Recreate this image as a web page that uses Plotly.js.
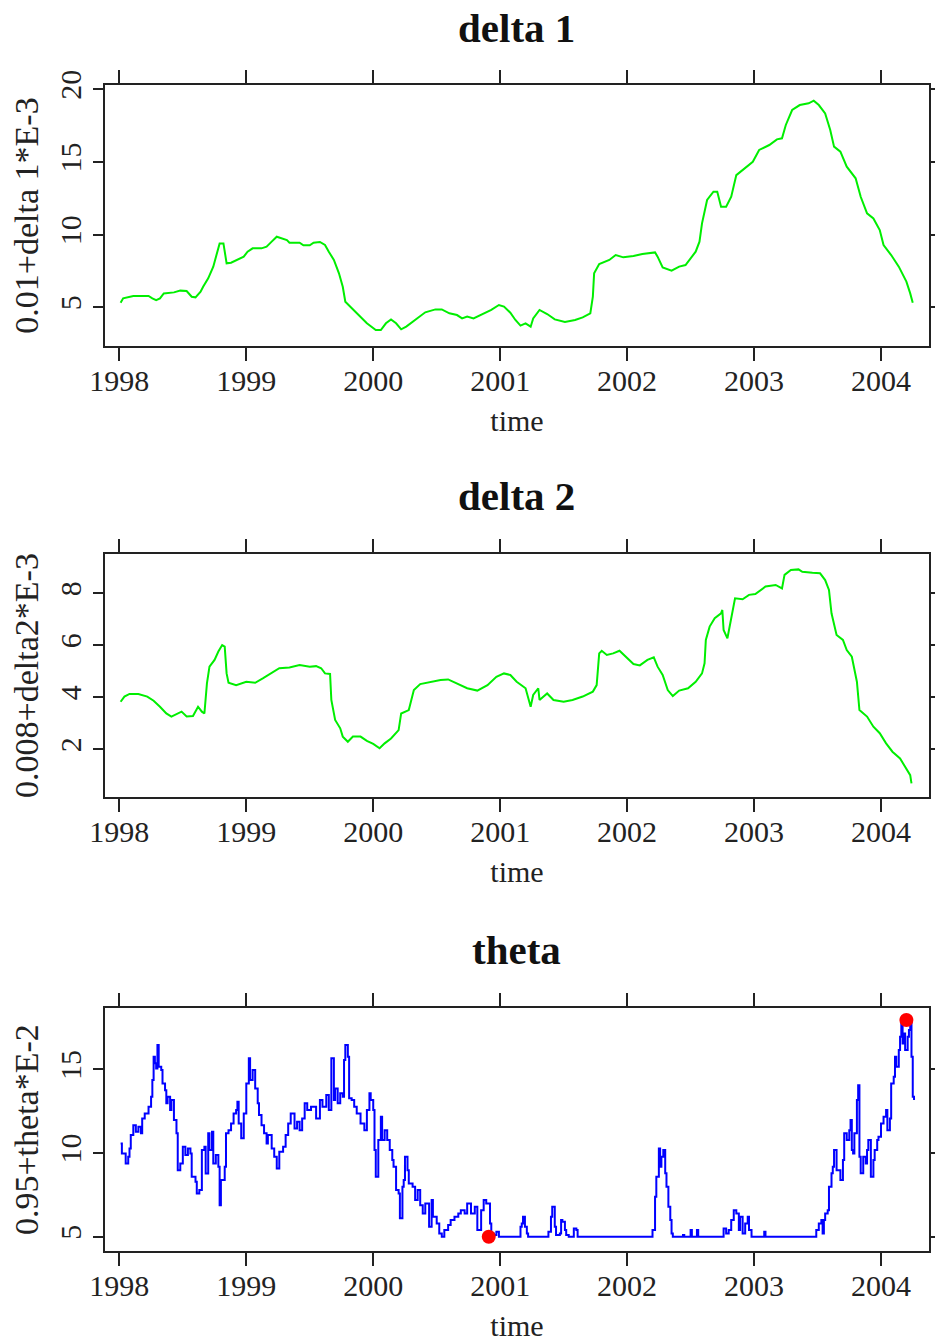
<!DOCTYPE html>
<html>
<head>
<meta charset="utf-8">
<script src="https://cdn.plot.ly/plotly-3.0.1.min.js"></script>
<style>
html,body{margin:0;padding:0;background:#fff;}
#chart{width:935px;height:1342px;}
</style>
</head>
<body>
<div id="chart"></div>
<script>
// ---------- data ----------
const yearTicks = [1998, 1999, 2000, 2001, 2002, 2003, 2004];

const delta1Time = [1998.01,1998.03,1998.11,1998.23,1998.26,1998.29,1998.32,1998.35,1998.43,1998.48,1998.53,1998.57,1998.6,1998.64,1998.66,1998.7,1998.74,1998.77,1998.79,1998.82,1998.83,1998.845,1998.88,1998.92,1998.98,1999.01,1999.05,1999.12,1999.16,1999.2,1999.24,1999.32,1999.34,1999.42,1999.45,1999.5,1999.53,1999.58,1999.62,1999.65,1999.69,1999.73,1999.76,1999.78,1999.82,1999.9,1999.95,2000.02,2000.06,2000.1,2000.14,2000.18,2000.22,2000.26,2000.3,2000.35,2000.41,2000.49,2000.54,2000.6,2000.66,2000.7,2000.74,2000.79,2000.87,2000.93,2000.99,2001.03,2001.08,2001.12,2001.16,2001.2,2001.24,2001.26,2001.31,2001.37,2001.43,2001.51,2001.59,2001.65,2001.71,2001.73,2001.74,2001.78,2001.86,2001.91,2001.97,2002.05,2002.12,2002.22,2002.24,2002.28,2002.35,2002.41,2002.46,2002.5,2002.54,2002.57,2002.59,2002.63,2002.68,2002.71,2002.74,2002.78,2002.82,2002.86,2002.91,2002.99,2003.04,2003.12,2003.18,2003.22,2003.25,2003.3,2003.36,2003.43,2003.47,2003.51,2003.56,2003.6,2003.63,2003.68,2003.73,2003.8,2003.84,2003.89,2003.94,2003.99,2004.02,2004.08,2004.14,2004.2,2004.23,2004.25];
const delta1Value = [5.32,5.62,5.78,5.78,5.62,5.5,5.62,5.96,6.03,6.15,6.12,5.73,5.69,6.08,6.42,7.0,7.8,8.72,9.4,9.4,8.72,8.03,8.07,8.26,8.49,8.83,9.06,9.06,9.17,9.52,9.86,9.63,9.45,9.45,9.27,9.27,9.45,9.5,9.29,8.83,8.26,7.34,6.42,5.39,5.05,4.36,3.9,3.44,3.44,3.9,4.17,3.9,3.49,3.67,3.94,4.24,4.66,4.86,4.86,4.59,4.47,4.24,4.36,4.24,4.59,4.82,5.16,5.05,4.63,4.13,3.74,3.9,3.67,4.24,4.82,4.54,4.17,3.99,4.13,4.31,4.59,5.73,7.34,7.98,8.26,8.6,8.44,8.53,8.67,8.78,8.49,7.75,7.52,7.8,7.91,8.37,8.83,9.52,10.78,12.39,12.96,12.96,11.93,11.93,12.61,14.1,14.45,15.02,15.83,16.17,16.56,16.63,17.55,18.58,18.92,19.04,19.22,18.92,18.35,17.2,16.06,15.71,14.68,13.88,12.61,11.47,11.12,10.32,9.29,8.6,7.8,6.77,5.96,5.32];

const delta2Time = [1998.01,1998.04,1998.08,1998.15,1998.22,1998.27,1998.32,1998.37,1998.41,1998.45,1998.49,1998.53,1998.58,1998.62,1998.65,1998.67,1998.69,1998.71,1998.75,1998.78,1998.81,1998.83,1998.845,1998.86,1998.92,1999.0,1999.07,1999.13,1999.19,1999.26,1999.34,1999.42,1999.5,1999.55,1999.59,1999.62,1999.66,1999.67,1999.7,1999.74,1999.76,1999.8,1999.84,1999.9,1999.95,2000.0,2000.05,2000.09,2000.14,2000.2,2000.22,2000.28,2000.3,2000.32,2000.37,2000.45,2000.53,2000.59,2000.66,2000.74,2000.82,2000.9,2000.97,2001.03,2001.08,2001.13,2001.2,2001.24,2001.26,2001.3,2001.31,2001.37,2001.42,2001.5,2001.57,2001.65,2001.73,2001.76,2001.78,2001.8,2001.84,2001.89,2001.94,2001.99,2002.05,2002.1,2002.16,2002.21,2002.24,2002.28,2002.32,2002.36,2002.41,2002.48,2002.54,2002.59,2002.61,2002.62,2002.65,2002.69,2002.74,2002.75,2002.76,2002.79,2002.82,2002.85,2002.91,2002.96,2003.01,2003.09,2003.17,2003.22,2003.24,2003.29,2003.35,2003.38,2003.46,2003.52,2003.56,2003.59,2003.61,2003.65,2003.7,2003.73,2003.77,2003.81,2003.83,2003.89,2003.94,2003.99,2004.04,2004.09,2004.15,2004.2,2004.23,2004.24];
const delta2Value = [3.83,4.03,4.13,4.13,4.03,3.87,3.64,3.38,3.26,3.36,3.45,3.26,3.28,3.64,3.45,3.38,4.54,5.18,5.44,5.76,6.01,5.95,4.92,4.56,4.47,4.6,4.56,4.73,4.92,5.12,5.15,5.24,5.18,5.2,5.12,4.92,4.9,3.9,3.13,2.81,2.49,2.29,2.49,2.49,2.33,2.21,2.04,2.23,2.42,2.74,3.38,3.51,3.9,4.28,4.51,4.6,4.67,4.69,4.54,4.35,4.26,4.47,4.79,4.92,4.86,4.6,4.35,3.64,4.09,4.35,3.9,4.15,3.9,3.83,3.9,4.03,4.22,4.47,5.69,5.79,5.63,5.69,5.79,5.56,5.28,5.23,5.44,5.54,5.18,4.86,4.28,4.05,4.26,4.35,4.6,4.92,5.31,6.21,6.72,7.04,7.23,7.36,6.59,6.27,6.97,7.81,7.77,7.94,7.97,8.26,8.32,8.19,8.71,8.9,8.92,8.83,8.79,8.77,8.51,8.13,7.23,6.4,6.21,5.82,5.56,4.6,3.51,3.26,2.87,2.62,2.23,1.91,1.65,1.27,1.01,0.69];

const thetaTime = [1998.01,1998.02,1998.05,1998.07,1998.08,1998.09,1998.11,1998.13,1998.15,1998.17,1998.18,1998.2,1998.23,1998.25,1998.26,1998.27,1998.28,1998.29,1998.3,1998.31,1998.33,1998.34,1998.36,1998.37,1998.38,1998.4,1998.41,1998.43,1998.45,1998.46,1998.48,1998.5,1998.52,1998.54,1998.56,1998.57,1998.6,1998.61,1998.63,1998.65,1998.67,1998.68,1998.7,1998.71,1998.73,1998.74,1998.76,1998.78,1998.79,1998.8,1998.83,1998.84,1998.86,1998.88,1998.9,1998.92,1998.93,1998.94,1998.96,1998.98,1999.0,1999.02,1999.03,1999.05,1999.07,1999.09,1999.1,1999.12,1999.14,1999.16,1999.17,1999.2,1999.22,1999.24,1999.26,1999.29,1999.31,1999.33,1999.35,1999.38,1999.4,1999.42,1999.44,1999.46,1999.48,1999.51,1999.54,1999.55,1999.58,1999.6,1999.63,1999.65,1999.67,1999.69,1999.7,1999.72,1999.74,1999.76,1999.77,1999.78,1999.8,1999.81,1999.83,1999.85,1999.87,1999.9,1999.93,1999.95,1999.97,1999.98,2000.0,2000.01,2000.02,2000.04,2000.06,2000.07,2000.09,2000.11,2000.13,2000.15,2000.16,2000.18,2000.2,2000.21,2000.23,2000.24,2000.25,2000.27,2000.28,2000.31,2000.33,2000.35,2000.37,2000.39,2000.41,2000.44,2000.46,2000.47,2000.5,2000.52,2000.54,2000.56,2000.59,2000.61,2000.64,2000.67,2000.69,2000.72,2000.74,2000.77,2000.8,2000.82,2000.85,2000.87,2000.89,2000.92,2000.93,2000.95,2000.97,2000.99,2001.15,2001.16,2001.17,2001.18,2001.195,2001.21,2001.22,2001.37,2001.38,2001.4,2001.41,2001.43,2001.44,2001.47,2001.48,2001.49,2001.51,2001.52,2001.54,2001.58,2001.6,2001.61,2002.18,2002.2,2002.22,2002.23,2002.25,2002.26,2002.27,2002.285,2002.3,2002.31,2002.325,2002.34,2002.35,2002.36,2002.43,2002.44,2002.45,2002.5,2002.51,2002.55,2002.56,2002.76,2002.78,2002.8,2002.82,2002.84,2002.86,2002.88,2002.89,2002.91,2002.93,2002.95,2002.96,2002.98,2003.07,2003.08,2003.09,2003.48,2003.49,2003.51,2003.53,2003.54,2003.55,2003.56,2003.58,2003.59,2003.61,2003.62,2003.63,2003.65,2003.68,2003.7,2003.71,2003.73,2003.75,2003.76,2003.77,2003.78,2003.79,2003.81,2003.82,2003.83,2003.84,2003.86,2003.88,2003.89,2003.9,2003.92,2003.94,2003.95,2003.97,2003.98,2004.0,2004.02,2004.04,2004.05,2004.07,2004.08,2004.1,2004.11,2004.12,2004.14,2004.15,2004.16,2004.17,2004.18,2004.19,2004.21,2004.22,2004.23,2004.24,2004.25,2004.26];
const thetaValue = [10.58,9.98,9.38,9.78,10.28,11.08,11.67,11.27,11.57,11.18,12.07,12.37,12.77,13.37,14.36,15.76,15.36,15.06,16.45,15.16,14.96,14.16,13.76,12.97,13.37,12.57,13.17,11.97,11.18,8.98,9.38,10.38,9.88,10.28,9.98,8.59,8.29,7.59,7.79,10.18,10.38,8.78,11.18,10.18,11.27,9.38,9.88,9.18,6.89,8.39,9.18,11.18,11.37,11.77,12.37,12.57,13.07,11.77,10.88,12.37,14.16,15.66,14.36,14.96,13.86,12.97,12.27,11.67,11.18,10.58,11.08,10.28,9.78,9.08,10.08,10.38,11.08,11.77,12.37,11.47,11.87,11.37,12.07,12.97,12.57,12.77,12.77,12.07,13.17,12.77,13.47,12.57,15.66,13.17,13.86,12.97,13.57,13.37,15.56,16.45,15.76,13.27,13.17,12.77,12.37,11.77,11.37,12.57,13.57,13.17,12.57,10.18,8.59,10.78,12.17,10.78,11.37,10.78,10.18,9.58,9.18,7.79,7.59,6.1,7.99,8.39,9.78,8.98,8.19,7.99,7.19,7.79,6.89,6.39,6.99,5.6,7.19,6.2,5.8,5.2,5.0,5.4,5.7,6.0,6.2,6.39,6.59,6.39,6.99,6.39,6.79,5.4,6.59,7.19,6.99,5.8,5.2,5.1,5.3,5.0,5.0,5.6,5.8,6.2,5.6,5.2,5.0,5.0,5.3,6.2,6.79,5.6,5.1,5.2,6.0,5.9,5.4,5.1,5.0,5.5,5.4,5.0,5.0,5.4,7.39,8.59,10.28,9.18,9.78,10.18,8.79,7.99,6.79,6.0,5.2,5.0,5.0,5.1,5.0,5.4,5.0,5.4,5.0,5.5,5.2,5.4,6.0,6.59,6.39,5.4,6.2,5.2,5.8,6.2,5.4,5.0,5.0,5.3,5.0,5.0,5.4,5.8,6.0,5.2,6.0,6.39,6.59,7.99,8.79,9.18,10.18,8.98,8.39,9.58,11.18,10.78,11.37,11.97,10.18,9.98,11.18,13.17,14.06,9.78,8.79,9.78,9.38,10.18,10.78,8.59,9.58,10.18,10.78,10.98,11.77,12.17,12.57,11.37,12.07,14.16,14.56,15.76,15.16,16.16,16.95,17.75,16.55,17.15,16.16,16.95,17.35,17.95,15.76,13.37,13.17];

const thetaMarkTime = [2000.91, 2004.2];
const thetaMarkValue = [5.0, 17.95];

const panelTitles = ['delta 1', 'delta 2', 'theta'];
const yTitles = ['0.01+delta 1*E-3', '0.008+delta2*E-3', '0.95+theta*E-2'];
const xTitle = 'time';

// ---------- layout helpers ----------
const W = 935, H = 1342;
const xDom = [105 / W, 929 / W];
function yDom(top, bottom) { return [1 - bottom / H, 1 - top / H]; }

const serif = 'Liberation Serif, Times New Roman, serif';
const axisColor = '#222222';
const tickFont = {family: serif, size: 30, color: '#222222'};
const titleFont = {family: serif, size: 34, color: '#222222'};

function xAxis(anchor) {
  return {
    domain: xDom, anchor: anchor, range: [1997.887, 2004.378],
    tickmode: 'array', tickvals: yearTicks, ticktext: yearTicks.map(String),
    ticks: 'outside', ticklen: 13, tickwidth: 2, tickcolor: axisColor, ticklabelstandoff: -6,
    showline: true, linecolor: axisColor, linewidth: 2, mirror: 'ticks',
    showgrid: false, zeroline: false, tickfont: tickFont,
    title: {text: xTitle, font: {family: serif, size: 30, color: '#222222'}, standoff: 14},
    automargin: false, fixedrange: true
  };
}
function yAxis(top, bottom, anchor, range, ticks, title) {
  return {
    domain: yDom(top, bottom), anchor: anchor, range: range,
    tickmode: 'array', tickvals: ticks, ticktext: ticks.map(String), tickangle: -90,
    ticks: 'outside', ticklen: 10, tickwidth: 2, tickcolor: axisColor,
    showline: true, linecolor: axisColor, linewidth: 2, mirror: 'ticks',
    showgrid: false, zeroline: false, tickfont: tickFont,
    title: {text: title, font: titleFont, standoff: 5},
    automargin: false, fixedrange: true
  };
}

const traces = [
  {x: delta1Time, y: delta1Value, xaxis: 'x', yaxis: 'y', type: 'scatter', mode: 'lines',
   line: {color: '#00ee00', width: 2}, hoverinfo: 'skip'},
  {x: delta2Time, y: delta2Value, xaxis: 'x2', yaxis: 'y2', type: 'scatter', mode: 'lines',
   line: {color: '#00ee00', width: 2}, hoverinfo: 'skip'},
  {x: thetaTime, y: thetaValue, xaxis: 'x3', yaxis: 'y3', type: 'scatter', mode: 'lines',
   line: {color: '#0000ff', width: 2, shape: 'hv'}, hoverinfo: 'skip'},
  {x: thetaMarkTime, y: thetaMarkValue, xaxis: 'x3', yaxis: 'y3', type: 'scatter', mode: 'markers',
   marker: {color: '#ff0000', size: 14, symbol: 'circle'}, hoverinfo: 'skip'}
];

const titleY = [28, 496, 950];
const annotations = panelTitles.map((t, i) => ({
  text: '<b>' + t + '</b>', xref: 'paper', yref: 'paper', x: 516 / W, y: 1 - titleY[i] / H,
  xanchor: 'center', yanchor: 'middle', showarrow: false,
  font: {family: serif, size: 41, color: '#111111'}
}));

const layout = {
  width: W, height: H, margin: {l: 0, r: 0, t: 0, b: 0},
  paper_bgcolor: '#ffffff', plot_bgcolor: '#ffffff', showlegend: false,
  xaxis: xAxis('y'),
  yaxis: yAxis(85, 346, 'x', [2.34, 20.3], [5, 10, 15, 20], yTitles[0]),
  xaxis2: xAxis('y2'),
  yaxis2: yAxis(554.3, 796.7, 'x2', [0.18, 9.5], [2, 4, 6, 8], yTitles[1]),
  xaxis3: xAxis('y3'),
  yaxis3: yAxis(1008.3, 1251, 'x3', [4.15, 18.65], [5, 10, 15], yTitles[2]),
  annotations: annotations
};

Plotly.newPlot('chart', traces, layout, {staticPlot: true, displayModeBar: false});
</script>
</body>
</html>
